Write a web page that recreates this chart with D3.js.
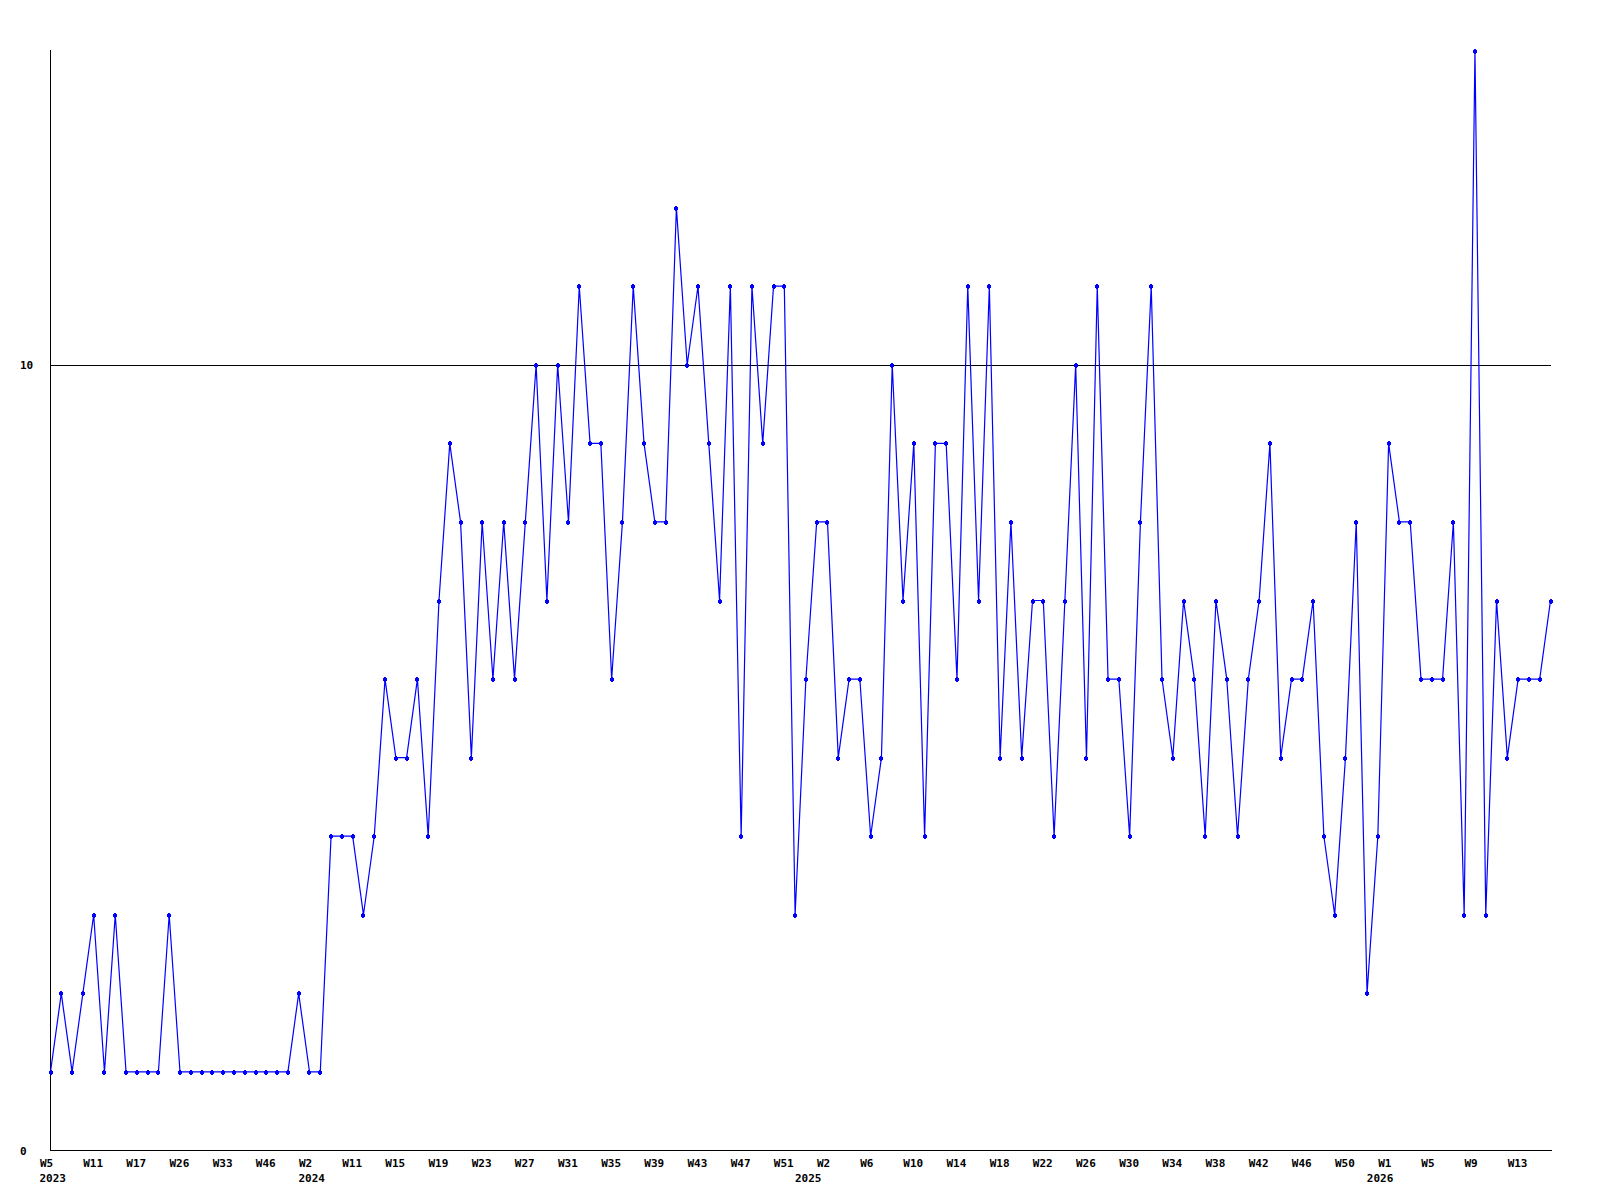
<!DOCTYPE html>
<html>
<head>
<meta charset="utf-8">
<script src="https://cdn.jsdelivr.net/npm/d3@7"></script>
<style>
  html, body { margin: 0; padding: 0; background: #ffffff; }
  svg { display: block; }
  .lbl { font-family: "DejaVu Sans Mono", "Liberation Mono", monospace; font-size: 11px; font-weight: bold; fill: #000; }
</style>
</head>
<body>
<script>
// ---- data ----
const values = [
  1,2,1,2,3,1,3,1,1,1,1,3,1,1,1,1,1,1,1,1,1,1,1,2,1,1,4,4,4,3,4,6,5,5,6,
  4,7,9,8,5,8,6,8,6,8,10,7,10,8,11,9,9,6,8,11,9,8,8,12,10,11,9,7,11,4,11,9,11,
  11,3,6,8,8,5,6,6,4,5,10,7,9,4,9,9,6,11,7,11,5,8,5,7,7,4,7,10,5,11,6,6,4,8,11,6,5,
  7,6,4,7,6,4,6,7,9,5,6,6,7,4,3,5,8,2,4,9,8,8,6,6,6,8,3,14,3,7,5,6,6,6,7
];
const tickLabels = ["W5","W11","W17","W26","W33","W46","W2","W11","W15","W19","W23","W27","W31","W35","W39","W43","W47","W51",
  "W2","W6","W10","W14","W18","W22","W26","W30","W34","W38","W42","W46","W50","W1","W5","W9","W13"];
const tickEvery = 4;
const yearLabels = ["2023","2024","2025","2026"];
const yearStartIndex = [0, 24, 70, 123];
const yTicks = [0, 10];

// ---- layout ----
const W = 1600, H = 1200;
const mLeft = 50.5, mRight = 1550.5, mTop = 50.5, mBottom = 1150.5;

const svg = d3.select("body").append("svg").attr("width", W).attr("height", H);

const x = d3.scaleLinear().domain([0, values.length - 1]).range([mLeft, mRight]);
const y = d3.scaleLinear().domain([0, 14]).range([mBottom, mTop]);

// gridline at 10
svg.append("g")
  .selectAll("line").data(yTicks.filter(d => d > 0)).join("line")
  .attr("x1", mLeft).attr("x2", mRight + 0.5)
  .attr("y1", d => Math.round(y(d)) + 0.5).attr("y2", d => Math.round(y(d)) + 0.5)
  .attr("stroke", "#000").attr("stroke-width", 1).attr("shape-rendering", "crispEdges");

// y axis
const yAxis = d3.axisLeft(y).tickValues(yTicks).tickSize(0).tickFormat(d3.format("d"));
const gy = svg.append("g").attr("transform", `translate(${mLeft},0)`).call(yAxis);
gy.select(".domain").attr("stroke", "#000").attr("shape-rendering", "crispEdges").attr("d", `M0,${mTop - 0.5}V${mBottom}`);
gy.selectAll(".tick text").attr("class", "lbl").attr("text-anchor", "start").attr("x", 20 - mLeft).attr("dy", "0.35em");

// x axis
const tickIdx = tickLabels.map((_, i) => i * tickEvery);
const xAxis = d3.axisBottom(x).tickValues(tickIdx).tickSize(0).tickFormat((d, i) => tickLabels[i]);
const gx = svg.append("g").attr("transform", `translate(0,${mBottom})`).call(xAxis);
gx.select(".domain").attr("stroke", "#000").attr("shape-rendering", "crispEdges").attr("d", `M${mLeft - 0.5},0H${mRight + 1}`);
gx.selectAll(".tick text").attr("class", "lbl").attr("text-anchor", "start").attr("x", -11).attr("y", 16).attr("dy", 0);

// year labels
svg.append("g").selectAll("text").data(yearLabels).join("text")
  .attr("class", "lbl")
  .attr("x", (d, i) => x(yearStartIndex[i]) - 11)
  .attr("y", mBottom + 31)
  .text(d => d);

// line
const line = d3.line().x((d, i) => x(i)).y(d => y(d));
svg.append("path").datum(values)
  .attr("d", line).attr("fill", "none").attr("stroke", "#0000ff").attr("stroke-width", 1.2);

// markers (small plus)
const mk = svg.append("g").attr("fill", "#0000ff");
mk.selectAll("rect.h").data(values).join("rect").attr("class", "h")
  .attr("x", (d, i) => Math.round(x(i)) - 2).attr("y", d => Math.round(y(d)) - 1)
  .attr("width", 4).attr("height", 3).attr("shape-rendering", "crispEdges");
mk.selectAll("rect.v").data(values).join("rect").attr("class", "v")
  .attr("x", (d, i) => Math.round(x(i)) - 1).attr("y", d => Math.round(y(d)) - 2)
  .attr("width", 2).attr("height", 5).attr("shape-rendering", "crispEdges");
</script>
</body>
</html>
